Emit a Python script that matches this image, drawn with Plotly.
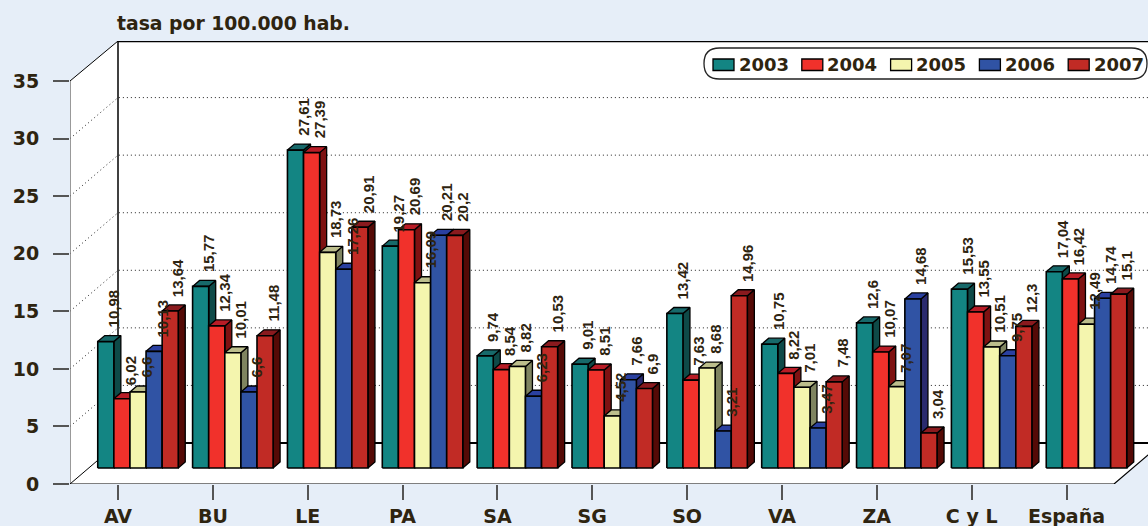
import plotly.graph_objects as go

categories = ["AV", "BU", "LE", "PA", "SA", "SG", "SO", "VA", "ZA", "C y L", "España"]
years = ["2003", "2004", "2005", "2006", "2007"]
v2003 = [10.98, 15.77, 27.61, 19.27, 9.74, 9.01, 13.42, 10.75, 12.6, 15.53, 17.04]
v2004 = [6.02, 12.34, 27.39, 20.69, 8.54, 8.51, 7.63, 8.22, 10.07, 13.55, 16.42]
v2005 = [6.6, 10.01, 18.73, 16.09, 8.82, 4.52, 8.68, 7.01, 7.07, 10.51, 12.49]
v2006 = [10.13, 6.6, 17.26, 20.21, 6.23, 7.66, 3.21, 3.47, 14.68, 9.75, 14.74]
v2007 = [13.64, 11.48, 20.91, 20.2, 10.53, 6.9, 14.96, 7.48, 3.04, 12.3, 15.1]
series = [v2003, v2004, v2005, v2006, v2007]
y_ticks = [0, 5, 10, 15, 20, 25, 30, 35]

front_col = ["#138583", "#f1312b", "#f4f5ae", "#3053a4", "#c12b25"]
top_col = ["#17696a", "#b81c26", "#bcbe8c", "#2a40a0", "#8a1a1e"]
side_col = ["#0e4a48", "#7e1212", "#7f8460", "#2a2a6e", "#550a06"]
INK = "#2e2410"
FONT = "DejaVu Sans"

W, H = 1148, 526
LEFT, BOTTOM_PX, TOP_PX = 70, 484, 41
X0_PX, GROUP_PX = 118, 94.85
Y_PX = 11.514
px_x = lambda p: p / GROUP_PX
px_y = lambda p: p / Y_PX

WALL_DX, WALL_DY = px_x(48), px_y(41)
BAR_DX, BAR_DY = px_x(20), px_y(16)
BAR_W = px_x(16.1)
DEPTH_X, DEPTH_Y = px_x(7), px_y(6)
xr = [(LEFT - X0_PX) / GROUP_PX, (W - X0_PX) / GROUP_PX]
yr = [0, (BOTTOM_PX - TOP_PX) / Y_PX]
x_floor_end = px_x(1114 - X0_PX)

fig = go.Figure()


def poly(xs, ys, fill, line="black", lw=0):
    fig.add_trace(go.Scatter(x=xs, y=ys, mode="lines", fill="toself", fillcolor=fill,
                             line=dict(color=line, width=lw), hoverinfo="skip", showlegend=False))


def seg(xs, ys, color="black", width=1, dash="solid"):
    fig.add_trace(go.Scatter(x=xs, y=ys, mode="lines", line=dict(color=color, width=width, dash=dash),
                             hoverinfo="skip", showlegend=False))


# walls and floor
wall_x0 = xr[0] + WALL_DX
poly([wall_x0, xr[1], xr[1], wall_x0], [WALL_DY, WALL_DY, yr[1], yr[1]], "white")
poly([xr[0], wall_x0, wall_x0, xr[0]], [0, WALL_DY, yr[1], 35], "white")
poly([xr[0], x_floor_end, x_floor_end + WALL_DX, wall_x0], [0, 0, WALL_DY, WALL_DY], "white")

for t in y_ticks[1:-1]:
    seg([xr[0], wall_x0, xr[1]], [t, t + WALL_DY, t + WALL_DY], "#222222", 1, "1px,3px")
seg([xr[0], wall_x0], [35, yr[1]], "black", 1)
seg([wall_x0, xr[1]], [yr[1], yr[1]], "black", 2.5)
seg([wall_x0, wall_x0], [WALL_DY, yr[1]], "black", 1.5)
seg([xr[0], xr[0]], [0, 35], "#777777", 1.5)
seg([xr[0], wall_x0], [0, WALL_DY], "black", 1)
seg([wall_x0, xr[1]], [WALL_DY, WALL_DY], "black", 2)
seg([xr[0], x_floor_end, x_floor_end + WALL_DX], [0, 0, WALL_DY], "black", 1.2)

# bars: side, top and front face of each series, left to right
for s, vals in enumerate(series):
    fx, fy, sx, sy, tx, ty = [], [], [], [], [], []
    for g, v in enumerate(vals):
        l = g + BAR_DX + (s - 2.5) * BAR_W
        r = l + BAR_W
        b, tp = BAR_DY, BAR_DY + v
        fx += [l, r, r, l, l, None]
        fy += [b, b, tp, tp, b, None]
        sx += [r, r + DEPTH_X, r + DEPTH_X, r, r, None]
        sy += [b, b + DEPTH_Y, tp + DEPTH_Y, tp, b, None]
        tx += [l, r, r + DEPTH_X, l + DEPTH_X, l, None]
        ty += [tp, tp, tp + DEPTH_Y, tp + DEPTH_Y, tp, None]
    poly(sx, sy, side_col[s], "black", 1.3)
    poly(tx, ty, top_col[s], "black", 1.3)
    poly(fx, fy, front_col[s], "black", 1.6)

# value labels
annotations = []
for s, vals in enumerate(series):
    for g, v in enumerate(vals):
        annotations.append(dict(
            x=g + BAR_DX + (s - 1.5) * BAR_W, y=BAR_DY + v + px_y(13), xref="x", yref="y",
            text=f"{v:g}".replace(".", ","), textangle=-90, showarrow=False,
            xanchor="center", yanchor="bottom", borderpad=0,
            font=dict(family="Liberation Sans", size=15, color=INK, weight="bold")))


# custom legend pill, positioned in page pixels
def pax(p):
    return (p - LEFT) / (W - LEFT)


def pay(p):
    return (BOTTOM_PX - p) / (BOTTOM_PX - TOP_PX)


L_L, L_R, L_T, L_B, L_RAD = 704, 1147, 48, 79, 15.5
shapes = [dict(type="path", xref="paper", yref="paper", layer="above",
               line=dict(color="#222222", width=1.3), fillcolor="white",
               path=(f"M{pax(L_L + L_RAD)},{pay(L_T)} L{pax(L_R - L_RAD)},{pay(L_T)} "
                     f"Q{pax(L_R)},{pay(L_T)} {pax(L_R)},{pay((L_T + L_B) / 2)} "
                     f"Q{pax(L_R)},{pay(L_B)} {pax(L_R - L_RAD)},{pay(L_B)} "
                     f"L{pax(L_L + L_RAD)},{pay(L_B)} "
                     f"Q{pax(L_L)},{pay(L_B)} {pax(L_L)},{pay((L_T + L_B) / 2)} "
                     f"Q{pax(L_L)},{pay(L_T)} {pax(L_L + L_RAD)},{pay(L_T)} Z"))]
for s, yr_name in enumerate(years):
    x0 = 713 + 88.8 * s
    shapes.append(dict(type="rect", xref="paper", yref="paper", layer="above",
                       x0=pax(x0), x1=pax(x0 + 21), y0=pay(70.5), y1=pay(59),
                       fillcolor=front_col[s], line=dict(color="black", width=1.3)))
    annotations.append(dict(x=pax(x0 + 24.5), y=pay(65), xref="paper", yref="paper", text=yr_name,
                            showarrow=False, xanchor="left", yanchor="middle", borderpad=0,
                            font=dict(family=FONT, size=18, color=INK, weight="bold")))

fig.update_layout(
    width=W, height=H, autosize=False,
    margin=dict(l=LEFT, r=0, t=TOP_PX, b=H - BOTTOM_PX, pad=0, autoexpand=False),
    paper_bgcolor="#e6eef8", plot_bgcolor="#e6eef8", showlegend=False,
    title=dict(text="tasa por 100.000 hab.", x=117 / W, xanchor="left", xref="container",
               y=1 - 23 / H, yanchor="middle", yref="container",
               font=dict(family=FONT, size=18.8, color=INK, weight="bold")),
    xaxis=dict(range=xr, showgrid=False, zeroline=False, showline=False, automargin=False,
               tickmode="array", tickvals=list(range(len(categories))), ticktext=categories,
               ticks="outside", ticklen=15, tickcolor="#555555", tickwidth=1.5,
               ticklabelstandoff=0,
               tickfont=dict(family=FONT, size=19, color=INK, weight="bold")),
    yaxis=dict(range=yr, showgrid=False, zeroline=False, showline=False, automargin=False,
               tickmode="array", tickvals=y_ticks, ticktext=[str(t) for t in y_ticks],
               ticks="outside", ticklen=16, tickcolor="#555555", tickwidth=1.5,
               ticklabelstandoff=10,
               tickfont=dict(family=FONT, size=19, color=INK, weight="bold")),
    shapes=shapes, annotations=annotations,
)

fig.write_html("out.html", config=dict(displayModeBar=False), post_script=(
    "document.body.style.margin='0';document.documentElement.style.overflow='hidden';"))
